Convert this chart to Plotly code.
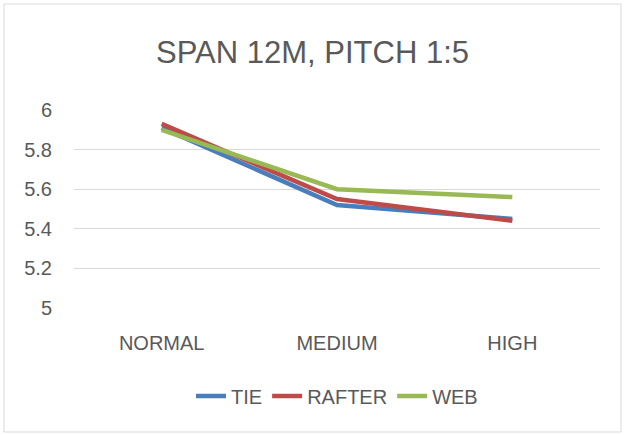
import plotly.graph_objects as go

categories = ["NORMAL", "MEDIUM", "HIGH"]
tie = [5.91, 5.52, 5.45]
rafter = [5.93, 5.55, 5.44]
web = [5.90, 5.60, 5.56]
y_ticks = [5, 5.2, 5.4, 5.6, 5.8, 6]
y_tick_labels = ["5", "5.2", "5.4", "5.6", "5.8", "6"]

FONT = "Liberation Sans, Arial, sans-serif"
GREY = "#595959"

fig = go.Figure()
for name, vals, col in [("TIE", tie, "#4A7EBB"), ("RAFTER", rafter, "#BE4B48"), ("WEB", web, "#98B954")]:
    fig.add_trace(go.Scatter(x=categories, y=vals, mode="lines", name=name,
                             line=dict(color=col, width=4.5)))

L, R, T, B = 74, 25, 110, 127
W, H = 625, 435
pw, ph = W - L - R, H - T - B
def px(x):
    return (x - L) / pw
def py(y):
    return (H - B - y) / ph

fig.update_layout(
    width=W, height=H,
    margin=dict(l=L, r=R, t=T, b=B),
    paper_bgcolor="white", plot_bgcolor="white",
    font=dict(family=FONT, color=GREY, size=20),
    title=dict(text="SPAN 12M, PITCH 1:5", x=0.5, xanchor="center", y=1 - 52.5 / H, yanchor="middle",
               font=dict(size=31, color=GREY, family=FONT)),
    xaxis=dict(type="category", showgrid=False, zeroline=False, showline=False, ticks="",
               ticklabelstandoff=21, tickfont=dict(size=20, color=GREY), range=[-0.5, 2.5]),
    yaxis=dict(range=[5, 6], tickvals=y_ticks, ticktext=y_tick_labels, showgrid=True,
               gridcolor="#D9D9D9", gridwidth=1, zeroline=False, showline=False,
               ticklabelstandoff=21, tickfont=dict(size=20, color=GREY)),
    legend=dict(orientation="h", x=0.5, xanchor="center", y=py(396), yanchor="middle",
                font=dict(size=20, color=GREY), itemwidth=30, tracegroupgap=0),
    showlegend=True,
    shapes=[dict(type="rect", xref="paper", yref="paper", x0=px(4), x1=px(621), y0=py(432), y1=py(4),
                 line=dict(color="#D9D9D9", width=1), fillcolor="rgba(0,0,0,0)", layer="below")],
)

fig.write_html("out.html", config={"displayModeBar": False},
               post_script="document.body.style.margin='0';")
